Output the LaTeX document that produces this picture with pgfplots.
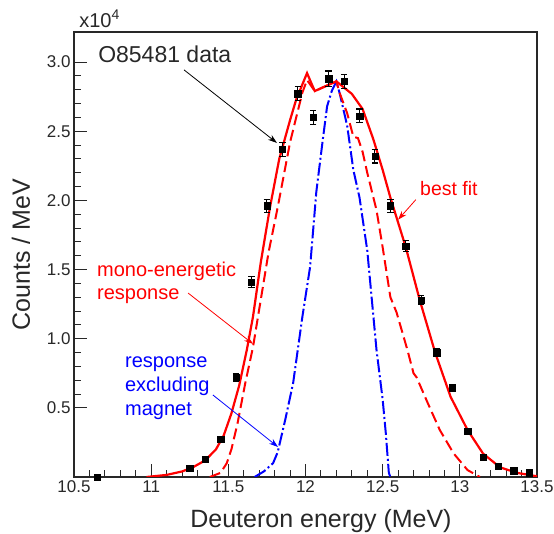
\documentclass[border=0pt]{standalone}
\usepackage{fontspec}
\setmainfont{Liberation Sans}
\usepackage{pgfplots}
\usepackage{pgfplotstable}
\pgfplotsset{compat=1.18}
\usetikzlibrary{arrows.meta}
\definecolor{axgray}{RGB}{40,40,40}

\pgfplotstableread{
x y e
10.65 0.000 0.005
11.25 0.065 0.012
11.35 0.130 0.015
11.45 0.275 0.020
11.55 0.720 0.030
11.65 1.410 0.040
11.75 1.960 0.045
11.85 2.370 0.050
11.95 2.770 0.050
12.05 2.600 0.050
12.15 2.880 0.055
12.25 2.860 0.050
12.35 2.610 0.050
12.45 2.320 0.050
12.55 1.960 0.045
12.65 1.670 0.040
12.75 1.280 0.035
12.85 0.900 0.030
12.95 0.645 0.025
13.05 0.330 0.020
13.15 0.145 0.015
13.25 0.080 0.010
13.35 0.045 0.008
13.45 0.030 0.006
}\datatable

\pgfplotstableread{
x y
10.97 0.000
11.10 0.015
11.20 0.040
11.27 0.070
11.35 0.120
11.42 0.200
11.47 0.300
11.52 0.460
11.57 0.660
11.62 0.920
11.66 1.160
11.71 1.550
11.77 1.950
11.83 2.300
11.90 2.580
11.94 2.730
12.01 2.920
12.06 2.790
12.14 2.830
12.20 2.860
12.30 2.770
12.37 2.660
12.44 2.440
12.50 2.220
12.55 2.020
12.60 1.840
12.65 1.660
12.74 1.280
12.84 0.900
12.94 0.580
13.05 0.340
13.15 0.170
13.26 0.070
13.37 0.030
13.50 0.005
}\fittable

\pgfplotstableread{
x y
11.38 0.000
11.45 0.030
11.49 0.100
11.52 0.200
11.56 0.390
11.61 0.680
11.66 0.940
11.71 1.280
11.76 1.620
11.82 1.950
11.90 2.420
11.98 2.780
12.01 2.870
12.06 2.790
12.16 2.840
12.20 2.860
12.22 2.780
12.27 2.630
12.31 2.460
12.34 2.450
12.37 2.350
12.40 2.200
12.46 1.930
12.50 1.660
12.55 1.300
12.59 1.190
12.66 0.920
12.70 0.750
12.72 0.720
12.79 0.540
12.87 0.340
12.96 0.170
13.05 0.050
13.13 0.000
}\monotable

\pgfplotstableread{
x y
11.67 0.000
11.73 0.040
11.79 0.100
11.82 0.180
11.87 0.420
11.92 0.680
11.98 1.160
12.03 1.520
12.07 2.060
12.11 2.420
12.14 2.680
12.17 2.790
12.20 2.860
12.22 2.780
12.27 2.540
12.31 2.220
12.35 2.020
12.40 1.640
12.43 1.280
12.46 0.920
12.50 0.560
12.52 0.320
12.54 0.030
12.55 0.000
}\nomagtable

\begin{document}
\begin{tikzpicture}
\useasboundingbox (-74pt,-57pt) rectangle (480pt,477pt);
\begin{axis}[
  at={(0pt,0pt)}, anchor=south west,
  scale only axis, width=463pt, height=445pt,
  xmin=10.5, xmax=13.5, ymin=0, ymax=3.217,
  xtick={10.5,11,11.5,12,12.5,13,13.5},
  xticklabels={10.5,11,11.5,12,12.5,13,13.5},
  ytick={0.5,1,1.5,2,2.5,3},
  yticklabels={0.5,1.0,1.5,2.0,2.5,3.0},
  minor x tick num=4, minor y tick num=4,
  tick pos=left, tick align=inside,
  major tick length=13pt, minor tick length=7pt,
  axis line style={line width=1.2pt, draw=axgray},
  every tick/.style={line width=0.9pt, axgray},
  /pgf/number format/assume math mode=true,
  ticklabel style={font=\fontsize{17}{17}\selectfont, text=axgray},
  xlabel={Deuteron energy (MeV)}, ylabel={Counts / MeV},
  label style={font=\fontsize{25}{25}\selectfont, text=axgray},
  xlabel style={at={(axis description cs:0.5335,-0.1146)}, anchor=base},
  ylabel style={at={(axis description cs:-0.1145,0.5)}, anchor=center},
  clip mode=individual,
]
\addplot[blue, line width=2pt, dash pattern=on 13pt off 3pt on 2pt off 3pt] table[x=x,y=y] {\nomagtable};
\addplot[red, line width=2pt, dash pattern=on 11pt off 5pt] table[x=x,y=y] {\monotable};
\addplot[red, line width=2.2pt] table[x=x,y=y] {\fittable};
\addplot[black, only marks, mark=square*, mark size=3.2pt,
  error bars/.cd, y dir=both, y explicit,
  error bar style={line width=1.1pt, black},
  error mark options={rotate=90, mark size=3.2pt, line width=1.1pt}]
  table[x=x,y=y,y error=e] {\datatable};

\node[anchor=base west, font=\fontsize{20}{20}\selectfont, text=axgray, inner sep=0pt]
  at (axis description cs:0.011,1.011) {x10\textsuperscript{4}};
\node[anchor=base west, font=\fontsize{23}{23}\selectfont, text=axgray, inner sep=0pt]
  at (axis cs:10.656,2.993) {O85481 data};
\draw[-{Stealth[length=9pt,width=6pt]}, line width=0.8pt, black]
  (axis cs:11.213,2.943) -- (axis cs:11.815,2.415);

\node[anchor=base west, font=\fontsize{19.5}{19.5}\selectfont, text=red, inner sep=0pt]
  at (axis cs:12.742,2.032) {best fit};
\draw[-{Stealth[length=9pt,width=6pt]}, line width=0.8pt, red]
  (axis cs:12.715,2.005) -- (axis cs:12.60,1.86);

\node[anchor=base west, font=\fontsize{20}{20}\selectfont, text=red, inner sep=0pt]
  at (axis cs:10.649,1.453) {mono-energetic};
\node[anchor=base west, font=\fontsize{20}{20}\selectfont, text=red, inner sep=0pt]
  at (axis cs:10.649,1.280) {response};
\draw[-{Stealth[length=9pt,width=6pt]}, line width=0.8pt, red]
  (axis cs:11.239,1.330) -- (axis cs:11.660,0.962);

\node[anchor=base west, font=\fontsize{20}{20}\selectfont, text=blue, inner sep=0pt]
  at (axis cs:10.830,0.795) {response};
\node[anchor=base west, font=\fontsize{20}{20}\selectfont, text=blue, inner sep=0pt]
  at (axis cs:10.830,0.615) {excluding};
\node[anchor=base west, font=\fontsize{20}{20}\selectfont, text=blue, inner sep=0pt]
  at (axis cs:10.830,0.441) {magnet};
\draw[-{Stealth[length=9pt,width=6pt]}, line width=0.8pt, blue]
  (axis cs:11.40,0.593) -- (axis cs:11.822,0.217);
\end{axis}
\end{tikzpicture}
\end{document}
